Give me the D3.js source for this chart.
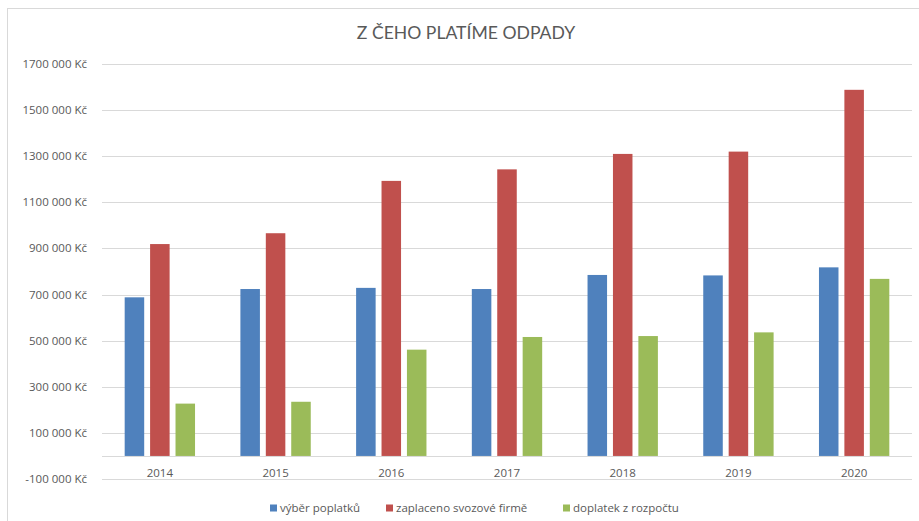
<!DOCTYPE html>
<html>
<head>
<meta charset="utf-8">
<script src="https://cdn.jsdelivr.net/npm/d3@7"></script>
<style>
  body { margin: 0; background: #fff; }
  svg { display: block; font-family: "Open Sans", sans-serif; }
</style>
</head>
<body>
<script>
const years = ["2014", "2015", "2016", "2017", "2018", "2019", "2020"];
const seriesNames = ["výběr poplatků", "zaplaceno svozové firmě", "doplatek z rozpočtu"];
const colors = ["#4F81BD", "#C0504D", "#9BBB59"];
const vyberPoplatku = [688000, 724000, 729000, 724000, 785000, 783000, 818000];
const zaplacenoFirme = [919000, 966000, 1193000, 1243000, 1310000, 1320000, 1588000];
const doplatekRozpocet = [227000, 235000, 461000, 516000, 520000, 536000, 768000];
const yTicks = [-100000, 100000, 300000, 500000, 700000, 900000, 1100000, 1300000, 1500000, 1700000];

const width = 919, height = 521;
const margin = { top: 64, right: 7, bottom: 42, left: 102 };

const data = years.map((yr, i) => ({
  year: yr,
  values: [vyberPoplatku[i], zaplacenoFirme[i], doplatekRozpocet[i]]
}));

const svg = d3.select("body").append("svg")
  .attr("width", width)
  .attr("height", height);

// outer frame
svg.append("rect")
  .attr("x", 7.5).attr("y", 8.5)
  .attr("width", width + 10).attr("height", height + 10)
  .attr("fill", "none")
  .attr("stroke", "#d9d9d9");

const x0 = d3.scaleBand()
  .domain(years)
  .range([margin.left, width - margin.right])
  .paddingInner(0.392)
  .paddingOuter(0.196);

const x1 = d3.scaleBand()
  .domain(d3.range(3))
  .range([0, x0.bandwidth()])
  .paddingInner(0.232);

const y = d3.scaleLinear()
  .domain([-100000, 1700000])
  .range([height - margin.bottom, margin.top]);

// "1700 000 Kč", "-100 000 Kč"
const fmt = v => {
  const s = String(Math.abs(v));
  const head = s.slice(0, s.length - 3), tail = s.slice(-3);
  return (v < 0 ? "-" : "") + head + " " + tail + " Kč";
};

// gridlines
svg.append("g")
  .selectAll("line")
  .data(yTicks.concat([0]))
  .join("line")
    .attr("x1", x0.range()[0])
    .attr("x2", x0.range()[1])
    .attr("y1", d => Math.round(y(d)) + 0.5)
    .attr("y2", d => Math.round(y(d)) + 0.5)
    .attr("stroke", "#d9d9d9")
    .attr("stroke-width", 1);

// y-axis labels
svg.append("g")
  .selectAll("text")
  .data(yTicks)
  .join("text")
    .attr("x", 87)
    .attr("y", d => y(d))
    .attr("dy", "0.35em")
    .attr("text-anchor", "end")
    .attr("fill", "#595959")
    .attr("font-size", 11.5)
    .text(d => fmt(d));

// bars
svg.append("g")
  .selectAll("g")
  .data(data)
  .join("g")
    .attr("transform", d => `translate(${x0(d.year)},0)`)
  .selectAll("rect")
  .data(d => d.values.map((v, i) => ({ i, v })))
  .join("rect")
    .attr("x", d => x1(d.i))
    .attr("y", d => y(d.v))
    .attr("width", x1.bandwidth())
    .attr("height", d => y(0) - y(d.v))
    .attr("fill", d => colors[d.i]);

// x labels
svg.append("g")
  .selectAll("text")
  .data(years)
  .join("text")
    .attr("x", d => x0(d) + x0.bandwidth() / 2)
    .attr("y", 473)
    .attr("dy", "0.35em")
    .attr("text-anchor", "middle")
    .attr("fill", "#595959")
    .attr("font-size", 11.5)
    .text(d => d);

// title
svg.append("text")
  .attr("x", 466)
  .attr("y", 33)
  .attr("dy", "0.35em")
  .attr("text-anchor", "middle")
  .attr("fill", "#595959")
  .attr("font-family", "Lato, sans-serif")
  .attr("font-size", 17.6)
  .text("Z ČEHO PLATÍME ODPADY");

// legend
const legendX = [270, 386, 563];
const legend = svg.append("g")
  .selectAll("g")
  .data(seriesNames)
  .join("g")
    .attr("transform", (d, i) => `translate(${legendX[i]},508)`);

legend.append("rect")
  .attr("x", 0).attr("y", -3.5)
  .attr("width", 7).attr("height", 7)
  .attr("fill", (d, i) => colors[i]);

legend.append("text")
  .attr("x", 10)
  .attr("dy", "0.35em")
  .attr("fill", "#595959")
  .attr("font-size", 11.5)
  .text(d => d);
</script>
</body>
</html>
